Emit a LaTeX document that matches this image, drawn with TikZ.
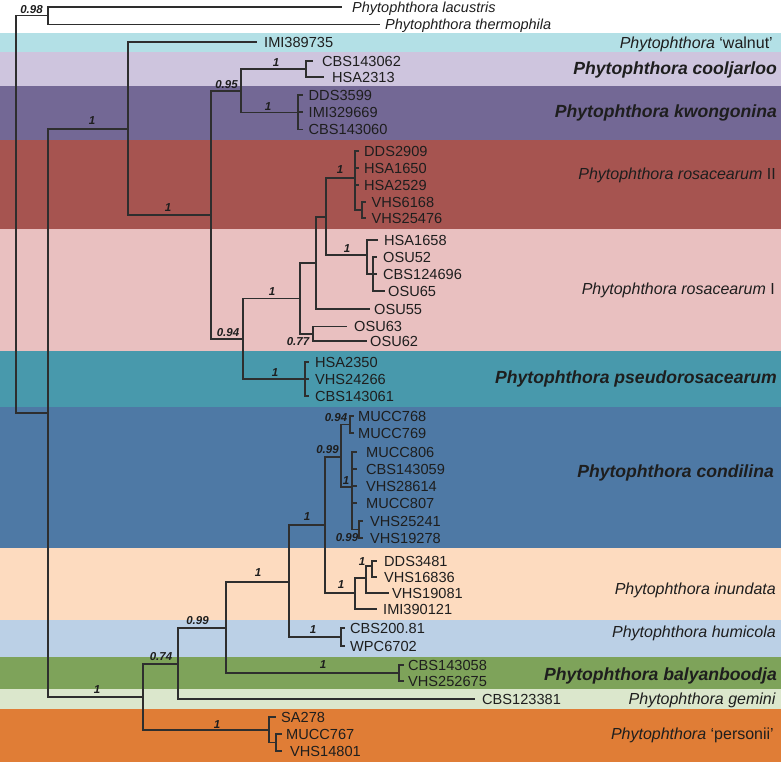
\documentclass[tikz,border=0pt]{standalone}
\usepackage{fontspec}
\setmainfont{Liberation Sans}
\definecolor{linec}{HTML}{2E2E2E}
\definecolor{txt}{HTML}{1E1E1E}
\definecolor{cWal}{HTML}{B3E0E6}
\definecolor{cCoo}{HTML}{CEC5DE}
\definecolor{cKwo}{HTML}{736895}
\definecolor{cRoB}{HTML}{A65450}
\definecolor{cRoA}{HTML}{E9C0C0}
\definecolor{cPse}{HTML}{4899AC}
\definecolor{cCon}{HTML}{4E79A5}
\definecolor{cInu}{HTML}{FDDBBF}
\definecolor{cHum}{HTML}{BBD0E6}
\definecolor{cBal}{HTML}{7EA35A}
\definecolor{cGem}{HTML}{DBE7CC}
\definecolor{cPer}{HTML}{E07D36}
\begin{document}
\begin{tikzpicture}[x=1pt,y=-1pt,
  br/.style={draw=linec, line width=1.1pt},
  leaf/.style={anchor=west, inner xsep=#1, inner ysep=0pt, text height=10.4pt, text depth=0pt,
    font=\fontsize{14.6}{16}\selectfont, text=txt},
  leaf/.default=5pt,
  outleaf/.style={anchor=west, inner xsep=#1, inner ysep=0pt, text height=10.4pt, text depth=0pt,
    font=\fontsize{14.5}{16}\selectfont\itshape, text=txt},
  sp/.style={anchor=east, inner sep=0pt, text height=11.5pt, text depth=0pt,
    font=\fontsize{16}{18}\selectfont, text=txt},
  spb/.style={anchor=east, inner sep=0pt, text height=12.6pt, text depth=0pt,
    font=\fontsize{17.6}{19}\selectfont\bfseries\itshape, text=txt},
  supp/.style={inner sep=0pt, font=\fontsize{11.5}{12}\selectfont\bfseries\itshape, text=txt}
]
\useasboundingbox (0,0) rectangle (782,763);
% colour bands
\fill[cWal] (0,33) rectangle (781,51.5);
\fill[cCoo] (0,51.5) rectangle (781,86);
\fill[cKwo] (0,86) rectangle (781,140);
\fill[cRoB] (0,140) rectangle (781,228.5);
\fill[cRoA] (0,228.5) rectangle (781,351);
\fill[cPse] (0,351) rectangle (781,407);
\fill[cCon] (0,407) rectangle (781,548);
\fill[cInu] (0,548) rectangle (781,620);
\fill[cHum] (0,620) rectangle (781,657);
\fill[cBal] (0,657) rectangle (781,689);
\fill[cGem] (0,689) rectangle (781,709);
\fill[cPer] (0,709) rectangle (781,762);

% internal nodes
\coordinate (R) at (16,214);
\coordinate (O) at (48,15.5);
\coordinate (N1) at (48,413);
\coordinate (N2) at (128,129);
\coordinate (N3) at (211,215);
\coordinate (N4) at (241,91);
\coordinate (N5) at (306,69);
\coordinate (N6) at (298,112.5);
\coordinate (N7) at (243,339);
\coordinate (N8) at (300,298.5);
\coordinate (N9) at (316,263);
\coordinate (N10) at (326,217);
\coordinate (N11) at (355,178);
\coordinate (N12) at (362,210);
\coordinate (N13) at (367,255);
\coordinate (N14) at (373,274);
\coordinate (N15) at (313,334);
\coordinate (N16) at (305,379);
\coordinate (N17) at (143,697);
\coordinate (N18) at (178,664);
\coordinate (N19) at (226,628);
\coordinate (N20) at (289,582);
\coordinate (N21) at (325,525);
\coordinate (N22) at (341,457);
\coordinate (N23) at (350,424.5);
\coordinate (N24) at (352,487);
\coordinate (N25) at (359,529.5);
\coordinate (N26) at (355,593);
\coordinate (N27) at (366,578);
\coordinate (N28) at (372,566);
\coordinate (N29) at (341,637);
\coordinate (N30) at (399,673);
\coordinate (N31) at (269,730);
\coordinate (N32) at (276,742.5);

% leaves
\node[outleaf=10pt] (lac) at (342,7) {Phytophthora lacustris};
\node[outleaf=5pt] (the) at (380,24.5) {Phytophthora thermophila};
\node[leaf=7pt] (imiA) at (257,42) {IMI389735};
\node[leaf=9pt] (cbsA) at (313,61) {CBS143062};
\node[leaf=8pt] (hsaA) at (324,77) {HSA2313};
\node[leaf=5.5pt] (ddsA) at (303,95) {DDS3599};
\node[leaf=5.5pt] (imiB) at (303,112) {IMI329669};
\node[leaf=5.5pt] (cbsB) at (303,129.5) {CBS143060};
\node[leaf=5.5pt] (ddsB) at (358.5,151) {DDS2909};
\node[leaf=5.5pt] (hsaB) at (358.5,168) {HSA1650};
\node[leaf=5.5pt] (hsaC) at (358.5,185) {HSA2529};
\node[leaf=5.5pt] (vhsA) at (366,202) {VHS6168};
\node[leaf=5.5pt] (vhsB) at (366,218) {VHS25476};
\node[leaf=6pt] (hsaD) at (378,240) {HSA1658};
\node[leaf=6pt] (osuA) at (377,257) {OSU52};
\node[leaf=6pt] (cbsC) at (377,274) {CBS124696};
\node[leaf=3.5pt] (osuB) at (384.5,291) {OSU65};
\node[leaf=4pt] (osuC) at (370,309) {OSU55};
\node[leaf=7pt] (osuD) at (347,326.5) {OSU63};
\node[leaf=3pt] (osuE) at (367,341) {OSU62};
\node[leaf=6.5pt] (hsaE) at (308.5,362) {HSA2350};
\node[leaf=6.5pt] (vhsC) at (308.5,379) {VHS24266};
\node[leaf=6.5pt] (cbsD) at (308.5,396) {CBS143061};
\node[leaf=4pt] (mucA) at (354,416) {MUCC768};
\node[leaf=4pt] (mucB) at (354,433) {MUCC769};
\node[leaf=9pt] (mucC) at (357,452) {MUCC806};
\node[leaf=9pt] (cbsE) at (357,469) {CBS143059};
\node[leaf=9pt] (vhsD) at (357,486) {VHS28614};
\node[leaf=9pt] (mucD) at (357,503) {MUCC807};
\node[leaf=7pt] (vhsE) at (363,521) {VHS25241};
\node[leaf=7pt] (vhsF) at (363,538) {VHS19278};
\node[leaf=7pt] (ddsC) at (377,561) {DDS3481};
\node[leaf=7pt] (vhsG) at (377,577) {VHS16836};
\node[leaf=3pt] (vhsH) at (389,593) {VHS19081};
\node[leaf=6pt] (imiC) at (377,609) {IMI390121};
\node[leaf=5pt] (cbsF) at (345,628) {CBS200.81};
\node[leaf=5pt] (wpcA) at (345,646) {WPC6702};
\node[leaf=4pt] (cbsG) at (404,665) {CBS143058};
\node[leaf=4pt] (vhsI) at (404,681) {VHS252675};
\node[leaf=7pt] (cbsH) at (475,699) {CBS123381};
\node[leaf=5pt] (saA) at (276,717) {SA278};
\node[leaf=4pt] (mucE) at (282,734) {MUCC767};
\node[leaf=8pt] (vhsJ) at (282,751) {VHS14801};

% branches
\draw[br] (R) |- (O);
\draw[br] (R) |- (N1);
\draw[br] (O) |- (lac.west);
\draw[br] (O) |- (the.west);
\draw[br] (N1) |- (N2);
\draw[br] (N1) |- (N17);
\draw[br] (N2) |- (imiA.west);
\draw[br] (N2) |- (N3);
\draw[br] (N3) |- (N4);
\draw[br] (N3) |- (N7);
\draw[br] (N4) |- (N5);
\draw[br] (N4) |- (N6);
\draw[br] (N5) |- (cbsA.west);
\draw[br] (N5) |- (hsaA.west);
\draw[br] (N6) |- (ddsA.west);
\draw[br] (N6) |- (imiB.west);
\draw[br] (N6) |- (cbsB.west);
\draw[br] (N7) |- (N8);
\draw[br] (N7) |- (N16);
\draw[br] (N8) |- (N9);
\draw[br] (N8) |- (N15);
\draw[br] (N9) |- (N10);
\draw[br] (N9) |- (osuC.west);
\draw[br] (N10) |- (N11);
\draw[br] (N10) |- (N13);
\draw[br] (N11) |- (ddsB.west);
\draw[br] (N11) |- (hsaB.west);
\draw[br] (N11) |- (hsaC.west);
\draw[br] (N11) |- (N12);
\draw[br] (N12) |- (vhsA.west);
\draw[br] (N12) |- (vhsB.west);
\draw[br] (N13) |- (hsaD.west);
\draw[br] (N13) |- (N14);
\draw[br] (N14) |- (osuA.west);
\draw[br] (N14) |- (cbsC.west);
\draw[br] (N14) |- (osuB.west);
\draw[br] (N15) |- (osuD.west);
\draw[br] (N15) |- (osuE.west);
\draw[br] (N16) |- (hsaE.west);
\draw[br] (N16) |- (vhsC.west);
\draw[br] (N16) |- (cbsD.west);
\draw[br] (N17) |- (N18);
\draw[br] (N17) |- (N31);
\draw[br] (N18) |- (N19);
\draw[br] (N18) |- (cbsH.west);
\draw[br] (N19) |- (N20);
\draw[br] (N19) |- (N30);
\draw[br] (N20) |- (N21);
\draw[br] (N20) |- (N29);
\draw[br] (N21) |- (N22);
\draw[br] (N21) |- (N26);
\draw[br] (N22) |- (N23);
\draw[br] (N22) |- (N24);
\draw[br] (N23) |- (mucA.west);
\draw[br] (N23) |- (mucB.west);
\draw[br] (N24) |- (mucC.west);
\draw[br] (N24) |- (cbsE.west);
\draw[br] (N24) |- (vhsD.west);
\draw[br] (N24) |- (mucD.west);
\draw[br] (N24) |- (N25);
\draw[br] (N25) |- (vhsE.west);
\draw[br] (N25) |- (vhsF.west);
\draw[br] (N26) |- (N27);
\draw[br] (N26) |- (imiC.west);
\draw[br] (N27) |- (N28);
\draw[br] (N27) |- (vhsH.west);
\draw[br] (N28) |- (ddsC.west);
\draw[br] (N28) |- (vhsG.west);
\draw[br] (N29) |- (cbsF.west);
\draw[br] (N29) |- (wpcA.west);
\draw[br] (N30) |- (cbsG.west);
\draw[br] (N30) |- (vhsI.west);
\draw[br] (N31) |- (saA.west);
\draw[br] (N31) |- (N32);
\draw[br] (N32) |- (mucE.west);
\draw[br] (N32) |- (vhsJ.west);

% support values
\node[supp] (s01) at (31.5,10) {0.98};
\node[supp] (s02) at (92,121) {1};
\node[supp] (s03) at (168,208) {1};
\node[supp] (s04) at (226.5,85) {0.95};
\node[supp] (s05) at (276,63) {1};
\node[supp] (s06) at (268,107) {1};
\node[supp] (s07) at (340,170) {1};
\node[supp] (s08) at (347,249) {1};
\node[supp] (s09) at (272,292) {1};
\node[supp] (s10) at (228,333) {0.94};
\node[supp] (s11) at (298,342) {0.77};
\node[supp] (s12) at (275,373) {1};
\node[supp] (s13) at (97,690) {1};
\node[supp] (s14) at (161,657) {0.74};
\node[supp] (s15) at (197.5,621) {0.99};
\node[supp] (s16) at (258,573) {1};
\node[supp] (s17) at (307,517) {1};
\node[supp] (s18) at (327.5,450) {0.99};
\node[supp] (s19) at (336,418) {0.94};
\node[supp] (s20) at (346,481) {1};
\node[supp] (s21) at (347,538) {0.99};
\node[supp] (s22) at (341,585) {1};
\node[supp] (s23) at (362,562) {1};
\node[supp] (s24) at (313,630) {1};
\node[supp] (s25) at (323,665) {1};
\node[supp] (s26) at (217,725) {1};

% species names
\node[sp] (t01) at (773,42.5) {\textit{Phytophthora} ‘walnut’};
\node[spb] (t02) at (777,68) {Phytophthora cooljarloo};
\node[spb] (t03) at (777,111) {Phytophthora kwongonina};
\node[sp] (t04) at (776,174) {\textit{Phytophthora rosacearum} II};
\node[sp] (t05) at (775,289) {\textit{Phytophthora rosacearum} I};
\node[spb] (t06) at (777,377) {Phytophthora pseudorosacearum};
\node[spb] (t07) at (774,471) {Phytophthora condilina};
\node[sp] (t08) at (776,589) {\textit{Phytophthora inundata}};
\node[sp] (t09) at (776,632) {\textit{Phytophthora humicola}};
\node[spb] (t10) at (777,674) {Phytophthora balyanboodja};
\node[sp] (t11) at (776,699) {\textit{Phytophthora gemini}};
\node[sp] (t12) at (774,734) {\textit{Phytophthora} ‘personii’};
\end{tikzpicture}
\end{document}
